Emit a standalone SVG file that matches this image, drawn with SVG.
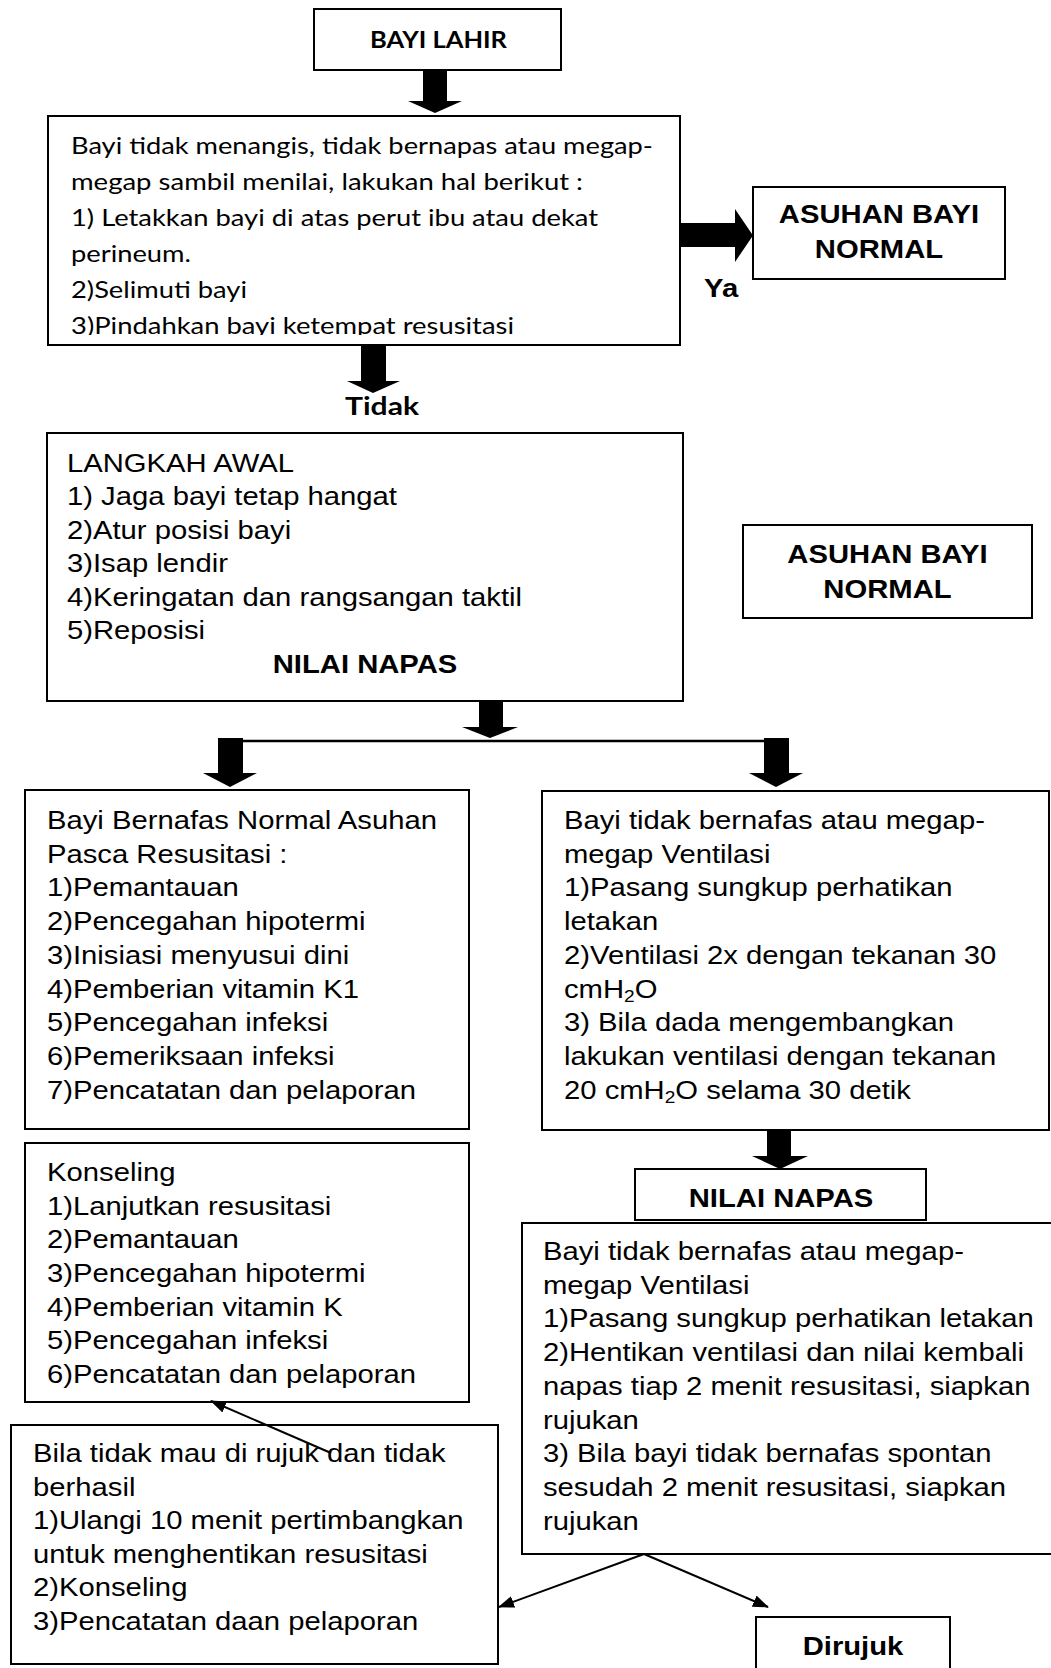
<svg xmlns="http://www.w3.org/2000/svg" width="1051" height="1668" viewBox="0 0 1051 1668">
<style>
.box{fill:#fff;stroke:#000;stroke-width:2}
.t{font-family:"Liberation Sans",Arial,sans-serif;font-size:26px;fill:#000}
.b{font-family:"Liberation Sans",Arial,sans-serif;font-size:26px;font-weight:bold;fill:#000}
.c{text-anchor:middle}
.cal{font-family:Lato,"Open Sans",sans-serif;font-size:24px;fill:#000}
.calb{font-family:Lato,"Open Sans",sans-serif;font-weight:bold;fill:#000}
.blk{fill:#000;stroke:none}
.ln{stroke:#000;stroke-width:2;fill:none}
.sub{font-size:17px}
</style>
<defs>
<marker id="ah" markerUnits="userSpaceOnUse" viewBox="0 0 16 12" markerWidth="16" markerHeight="12" refX="15" refY="6" orient="auto">
<path d="M0,0 L16,6 L0,12 z" fill="#000"/>
</marker>
<clipPath id="clipB2"><rect x="48" y="116" width="632" height="219"/></clipPath>
</defs>
<rect x="0" y="0" width="1051" height="1668" fill="#fff"/>

<g id="bayi-lahir">
<rect class="box" x="314" y="9" width="247" height="61"/>
<text class="calb" x="370" y="48" font-size="23" textLength="137" lengthAdjust="spacingAndGlyphs">BAYI LAHIR</text>
</g>

<g id="penilaian">
<rect class="box" x="48" y="116" width="632" height="229"/>
<g clip-path="url(#clipB2)">
<text class="cal" x="71" y="154" textLength="582" lengthAdjust="spacingAndGlyphs">Bayi tidak menangis, tidak bernapas atau megap-</text>
<text class="cal" x="71" y="190" textLength="512" lengthAdjust="spacingAndGlyphs">megap sambil menilai, lakukan hal berikut :</text>
<text class="cal" x="71" y="226" textLength="527" lengthAdjust="spacingAndGlyphs">1) Letakkan bayi di atas perut ibu atau dekat</text>
<text class="cal" x="71" y="262" textLength="120" lengthAdjust="spacingAndGlyphs">perineum.</text>
<text class="cal" x="71" y="298" textLength="176" lengthAdjust="spacingAndGlyphs">2)Selimuti bayi</text>
<text class="cal" x="71" y="334" textLength="443" lengthAdjust="spacingAndGlyphs">3)Pindahkan bayi ketempat resusitasi</text>
</g>
</g>

<g id="asuhan-normal-1">
<rect class="box" x="753" y="187" width="252" height="92"/>
<g transform="translate(879 0) scale(1.125 1)">
<text class="b c" y="223">ASUHAN BAYI</text>
<text class="b c" y="258">NORMAL</text>
</g>
</g>

<g id="label-ya">
<g transform="translate(704 0) scale(1.125 1)"><text class="b" y="297">Ya</text></g>
</g>

<g id="label-tidak">
<text class="calb" x="345" y="415" font-size="25" textLength="74" lengthAdjust="spacingAndGlyphs">Tidak</text>
</g>

<g id="langkah-awal">
<rect class="box" x="47" y="433" width="636" height="268"/>
<g transform="translate(67 0) scale(1.125 1)">
<text class="t" y="472">LANGKAH AWAL</text>
<text class="t" y="505.5">1) Jaga bayi tetap hangat</text>
<text class="t" y="539">2)Atur posisi bayi</text>
<text class="t" y="572.5">3)Isap lendir</text>
<text class="t" y="606">4)Keringatan dan rangsangan taktil</text>
<text class="t" y="639.5">5)Reposisi</text>
</g>
<g transform="translate(365 0) scale(1.125 1)"><text class="b c" y="673">NILAI NAPAS</text></g>
</g>

<g id="asuhan-normal-2">
<rect class="box" x="743" y="525" width="289" height="93"/>
<g transform="translate(887.5 0) scale(1.125 1)">
<text class="b c" y="563">ASUHAN BAYI</text>
<text class="b c" y="598">NORMAL</text>
</g>
</g>

<g id="bernafas-normal">
<rect class="box" x="25" y="790" width="444" height="339"/>
<g transform="translate(47 0) scale(1.125 1)">
<text class="t" y="829">Bayi Bernafas Normal Asuhan</text>
<text class="t" y="862.75">Pasca Resusitasi :</text>
<text class="t" y="896.5">1)Pemantauan</text>
<text class="t" y="930.25">2)Pencegahan hipotermi</text>
<text class="t" y="964">3)Inisiasi menyusui dini</text>
<text class="t" y="997.75">4)Pemberian vitamin K1</text>
<text class="t" y="1031.5">5)Pencegahan infeksi</text>
<text class="t" y="1065.25">6)Pemeriksaan infeksi</text>
<text class="t" y="1099">7)Pencatatan dan pelaporan</text>
</g>
</g>

<g id="ventilasi">
<rect class="box" x="542" y="791" width="507" height="339"/>
<g transform="translate(564 0) scale(1.125 1)">
<text class="t" y="829">Bayi tidak bernafas atau megap-</text>
<text class="t" y="862.75">megap Ventilasi</text>
<text class="t" y="896.5">1)Pasang sungkup perhatikan</text>
<text class="t" y="930.25">letakan</text>
<text class="t" y="964">2)Ventilasi 2x dengan tekanan 30</text>
<text class="t" y="997.75">cmH<tspan class="sub" dy="4">2</tspan><tspan dy="-4">O</tspan></text>
<text class="t" y="1031.5">3) Bila dada mengembangkan</text>
<text class="t" y="1065.25">lakukan ventilasi dengan tekanan</text>
<text class="t" y="1099">20 cmH<tspan class="sub" dy="4">2</tspan><tspan dy="-4">O selama 30 detik</tspan></text>
</g>
</g>

<g id="konseling">
<rect class="box" x="25" y="1143" width="444" height="259"/>
<g transform="translate(47 0) scale(1.125 1)">
<text class="t" y="1181">Konseling</text>
<text class="t" y="1214.7">1)Lanjutkan resusitasi</text>
<text class="t" y="1248.4">2)Pemantauan</text>
<text class="t" y="1282.1">3)Pencegahan hipotermi</text>
<text class="t" y="1315.8">4)Pemberian vitamin K</text>
<text class="t" y="1349.5">5)Pencegahan infeksi</text>
<text class="t" y="1383.2">6)Pencatatan dan pelaporan</text>
</g>
</g>

<g id="nilai-napas-2">
<rect class="box" x="635" y="1169" width="291" height="51"/>
<g transform="translate(781 0) scale(1.125 1)"><text class="b c" y="1207">NILAI NAPAS</text></g>
</g>

<g id="ventilasi-lanjut">
<rect class="box" x="522" y="1223" width="540" height="331"/>
<g transform="translate(543 0) scale(1.125 1)">
<text class="t" y="1260">Bayi tidak bernafas atau megap-</text>
<text class="t" y="1293.75">megap Ventilasi</text>
<text class="t" y="1327.5">1)Pasang sungkup perhatikan letakan</text>
<text class="t" y="1361.25">2)Hentikan ventilasi dan nilai kembali</text>
<text class="t" y="1395">napas tiap 2 menit resusitasi, siapkan</text>
<text class="t" y="1428.75">rujukan</text>
<text class="t" y="1462.5">3) Bila bayi tidak bernafas spontan</text>
<text class="t" y="1496.25">sesudah 2 menit resusitasi, siapkan</text>
<text class="t" y="1530">rujukan</text>
</g>
</g>

<g id="tidak-mau-dirujuk">
<rect class="box" x="11" y="1425" width="487" height="239"/>
<g transform="translate(33 0) scale(1.125 1)">
<text class="t" y="1462">Bila tidak mau di rujuk dan tidak</text>
<text class="t" y="1495.6">berhasil</text>
<text class="t" y="1529.2">1)Ulangi 10 menit pertimbangkan</text>
<text class="t" y="1562.8">untuk menghentikan resusitasi</text>
<text class="t" y="1596.4">2)Konseling</text>
<text class="t" y="1630">3)Pencatatan daan pelaporan</text>
</g>
</g>

<g id="dirujuk">
<rect class="box" x="756" y="1617" width="194" height="70"/>
<g transform="translate(853 0) scale(1.125 1)"><text class="b c" y="1655">Dirujuk</text></g>
</g>

<g id="connectors">
<polygon class="blk" points="423,70 447,70 447,101 462,101 435,113 408,101 423,101"/>
<polygon class="blk" points="680,223 735,223 735,209 753,235.5 735,262 735,247 680,247"/>
<polygon class="blk" points="361,345 386,345 386,381 400,381 373,393 347,381 361,381"/>
<polygon class="blk" points="479,701 503,701 503,727 518,727 490,738 462,727 479,727"/>
<line class="ln" x1="242" y1="741" x2="765" y2="741" style="stroke-width:2.5"/>
<polygon class="blk" points="218,738 243,738 243,773 257,773 230,787 203,773 218,773"/>
<polygon class="blk" points="764,738 789,738 789,773 803,773 776,787 749,773 764,773"/>
<polygon class="blk" points="767,1130 791,1130 791,1156 808,1156 780,1169 752,1156 767,1156"/>
<line class="ln" x1="331" y1="1453" x2="211" y2="1401" marker-end="url(#ah)"/>
<line class="ln" x1="644" y1="1554" x2="499" y2="1607" marker-end="url(#ah)"/>
<line class="ln" x1="644" y1="1554" x2="768" y2="1607" marker-end="url(#ah)"/>
</g>
</svg>
